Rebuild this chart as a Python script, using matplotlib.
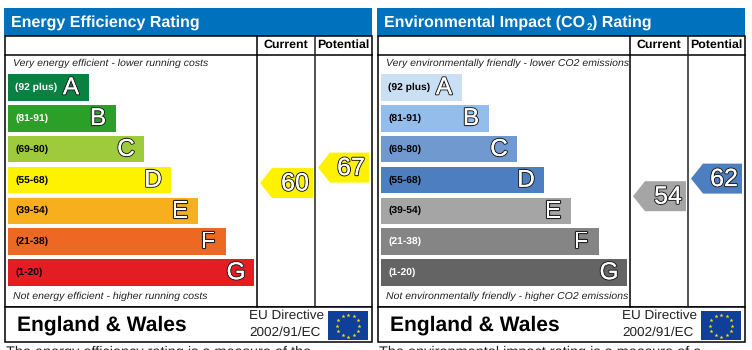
import matplotlib
matplotlib.use('Agg')
import matplotlib.pyplot as plt
import matplotlib.patheffects as pe
import numpy as np
from matplotlib.patches import Polygon, Rectangle

plt.rcParams['font.family'] = ['Liberation Sans', 'DejaVu Sans']
plt.rcParams['text.hinting'] = 'none'
plt.rcParams['text.hinting_factor'] = 8

bands = ['(92 plus)', '(81-91)', '(69-80)', '(55-68)', '(39-54)', '(21-38)', '(1-20)']
letters = ['A', 'B', 'C', 'D', 'E', 'F', 'G']
bar_lengths = [81, 108, 136, 163, 190, 218, 246]

energy_title = 'Energy Efficiency Rating'
energy_top = 'Very energy efficient - lower running costs'
energy_bottom = 'Not energy efficient - higher running costs'
energy_colors = ['#0b8043', '#2c9f29', '#9dcb3b', '#fff200', '#f7af1d', '#ed6823', '#e31d23']
energy_label_colors = ['white', 'white', 'black', 'black', 'black', 'black', 'black']
energy_current = 60
energy_potential = 67
energy_current_color = '#fff200'
energy_potential_color = '#fff200'
energy_note = 'The energy efficiency rating is a measure of the'

co2_title = 'Environmental Impact (CO'
co2_title_sub = '2'
co2_title_end = ') Rating'
co2_top = 'Very environmentally friendly - lower CO2 emissions'
co2_bottom = 'Not environmentally friendly - higher CO2 emissions'
co2_colors = ['#c9dff3', '#95bdeb', '#7099d0', '#4d7fc0', '#a5a5a5', '#858585', '#646464']
co2_label_colors = ['black', 'black', 'black', 'black', 'black', 'white', 'white']
co2_current = 54
co2_potential = 62
co2_current_color = '#a5a5a5'
co2_potential_color = '#4d7fc0'
co2_note = 'The environmental impact rating is a measure of a'


def outlined(ax, x, y, s, size, weight='normal', ha='center'):
    # white letter with a black edge, like the rating letters on the certificate
    ax.text(x, y, s, fontsize=size, color='white', ha=ha, va='center', weight=weight, zorder=4,
            path_effects=[pe.withStroke(linewidth=1.6, foreground='#222222'), pe.Normal()])


def pointer(ax, x0, x1, rating, color):
    yc = 183 - (rating - 60) * 2.2
    ax.add_patch(Polygon([(x0, yc), (x0 + 12, yc - 15), (x1, yc - 15),
                          (x1, yc + 15), (x0 + 12, yc + 15)], fc=color, ec='none', zorder=3))
    outlined(ax, x1 - 18, yc + 1, str(rating), 18)


def panel(ax, ox, right, title, top, bottom, colors, label_colors, current, potential,
          current_color, potential_color, note):
    # header
    ax.add_patch(Rectangle((ox + 4, 8), right - ox - 4, 27.5, fc='#0071bc', ec='none'))
    ax.text(ox + 11, 26.5, title, fontsize=11.5, weight='bold', color='white', va='baseline')
    # frame
    ax.add_patch(Rectangle((ox + 4.5, 35.5), right - ox - 4.5, 271, fc='white', ec='black', lw=1.1))
    ax.add_patch(Rectangle((ox + 4.5, 306.5), right - ox - 4.5, 35, fc='white', ec='black', lw=1.1))
    ax.plot([ox + 4.5, right], [54.5, 54.5], color='black', lw=1.1)
    ax.plot([ox + 257, ox + 257], [35.5, 306.5], color='black', lw=1.1)
    ax.plot([ox + 315, ox + 315], [35.5, 306.5], color='#222222', lw=1.1)
    ax.text(ox + 286, 45, 'Current', fontsize=8.9, weight='bold', ha='center', va='center')
    ax.text(ox + 343.5, 45, 'Potential', fontsize=8.9, weight='bold', ha='center', va='center')
    ax.text(ox + 13, 63, top, fontsize=7.55, style='italic', color='#222222', va='center')
    ax.text(ox + 13, 296.5, bottom, fontsize=7.55, style='italic', color='#222222', va='center')
    # bands
    y = 87.5 + 30.83 * np.arange(len(bar_lengths))
    ax.barh(y, bar_lengths, height=26.5, left=ox + 8, color=colors, zorder=2)
    for i in range(len(bar_lengths)):
        ax.text(ox + 15, y[i], bands[i], fontsize=7.4, weight='bold', color=label_colors[i],
                va='center', zorder=3)
        outlined(ax, ox + 8 + bar_lengths[i] - 18, y[i] + 0.5, letters[i], 17.5)
    # pointers
    pointer(ax, ox + 260, ox + 313, current, current_color)
    pointer(ax, ox + 318, ox + 369, potential, potential_color)
    # footer
    ax.text(ox + 17, 325, 'England & Wales', fontsize=15.15, weight='bold', va='center')
    ax.text(ox + 249, 316, 'EU Directive', fontsize=9.7, color='#222222', va='center')
    ax.text(ox + 249, 333, '2002/91/EC', fontsize=9.7, color='#222222', va='center')
    ax.add_patch(Rectangle((ox + 328, 311), 40, 29, fc='#0f3f99', ec='none'))
    ang = np.deg2rad(np.arange(0, 360, 30))
    ax.scatter(ox + 348 + 11 * np.cos(ang), 325.5 + 11 * np.sin(ang), marker='*', s=9,
               color='#ffe000', lw=0, zorder=3)
    ax.text(ox + 6, 352.5, note, fontsize=10.42, color='#222222', va='center')


fig = plt.figure(figsize=(7.52, 3.5), dpi=100)
ax = fig.add_axes([0, 0, 1, 1])
ax.set_xlim(0, 752)
ax.set_ylim(350, 0)
ax.axis('off')

panel(ax, 0, 372, energy_title, energy_top, energy_bottom, energy_colors, energy_label_colors,
      energy_current, energy_potential, energy_current_color, energy_potential_color, energy_note)
panel(ax, 373, 745, co2_title, co2_top, co2_bottom, co2_colors, co2_label_colors,
      co2_current, co2_potential, co2_current_color, co2_potential_color, co2_note)
# subscript and the rest of the CO2 title
ax.text(587, 29.5, co2_title_sub, fontsize=7, weight='bold', color='white', va='baseline')
ax.text(591.5, 26.5, co2_title_end, fontsize=11.5, weight='bold', color='white', va='baseline')

fig.savefig('out.png', dpi=100)
